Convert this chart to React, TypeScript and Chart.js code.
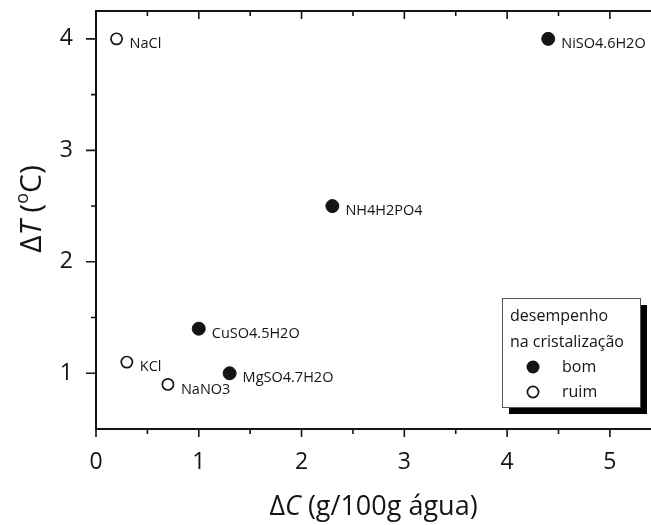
import React, { useEffect, useRef } from 'react';
import { Chart, registerables } from 'chart.js';
Chart.register(...registerables);

// ---- data ----
const bomNames = ['NiSO4.6H2O', 'NH4H2PO4', 'CuSO4.5H2O', 'MgSO4.7H2O'];
const bomDC = [4.4, 2.3, 1.0, 1.3];
const bomDT = [4.0, 2.5, 1.4, 1.0];
const ruimNames = ['NaCl', 'KCl', 'NaNO3'];
const ruimDC = [0.2, 0.3, 0.7];
const ruimDT = [4.0, 1.1, 0.9];

const xMajorTicks = [0, 1, 2, 3, 4, 5];
const xMinorTicks = [0.5, 1.5, 2.5, 3.5, 4.5];
const yMajorTicks = [1, 2, 3, 4];
const yMinorTicks = [1.5, 2.5, 3.5];

const legendTitle = ['desempenho', 'na cristalização'];
const legendLabels = ['bom', 'ruim'];

const FONT = '"Open Sans", "DejaVu Sans", sans-serif';
const INK = '#141414';

export default function App() {
  const ref = useRef<HTMLCanvasElement>(null);
  useEffect(() => {
    document.body.style.margin = '0';
    const canvas = ref.current!;
    const names = [bomNames, ruimNames];

    const decor = {
      id: 'decor',
      afterDraw(chart: any) {
        const ctx = chart.ctx as CanvasRenderingContext2D;
        const { left, right, top, bottom } = chart.chartArea;
        const xs = chart.scales.x;
        const ys = chart.scales.y;
        ctx.save();
        ctx.strokeStyle = INK;
        ctx.lineCap = 'butt';
        // frame
        ctx.lineWidth = 2;
        ctx.beginPath();
        ctx.moveTo(left, top);
        ctx.lineTo(left, bottom);
        ctx.lineTo(right, bottom);
        ctx.moveTo(left - 1, top);
        ctx.lineTo(right, top);
        ctx.stroke();
        // ticks
        ctx.lineWidth = 1.6;
        ctx.beginPath();
        const tickX = (v: number, len: number) => {
          const px = xs.getPixelForValue(v);
          ctx.moveTo(px, bottom);
          ctx.lineTo(px, bottom + len);
          ctx.moveTo(px, top);
          ctx.lineTo(px, top + len);
        };
        xMajorTicks.forEach((v) => tickX(v, 8));
        xMinorTicks.forEach((v) => tickX(v, 5));
        const tickY = (v: number, len: number) => {
          const py = ys.getPixelForValue(v);
          ctx.moveTo(left, py);
          ctx.lineTo(left - len, py);
        };
        yMajorTicks.forEach((v) => tickY(v, 10));
        yMinorTicks.forEach((v) => tickY(v, 5));
        ctx.stroke();

        // point labels
        ctx.fillStyle = INK;
        ctx.font = `14.5px ${FONT}`;
        ctx.textAlign = 'left';
        ctx.textBaseline = 'middle';
        chart.data.datasets.forEach((ds: any, di: number) => {
          const meta = chart.getDatasetMeta(di);
          meta.data.forEach((el: any, j: number) => {
            ctx.fillText(names[di][j], el.x + 13, el.y + 5);
          });
        });

        // axis titles
        const drawParts = (
          parts: { t: string; italic?: boolean; sup?: boolean }[],
          cx: number,
          cy: number,
          size: number
        ) => {
          const fontFor = (p: any) =>
            `${p.italic ? 'italic ' : ''}${p.sup ? Math.round(size * 0.6) : size}px ${FONT}`;
          let total = 0;
          parts.forEach((p) => {
            ctx.font = fontFor(p);
            total += ctx.measureText(p.t).width;
          });
          let x = cx - total / 2;
          ctx.textAlign = 'left';
          ctx.textBaseline = 'alphabetic';
          parts.forEach((p) => {
            ctx.font = fontFor(p);
            ctx.fillText(p.t, x, cy + (p.sup ? -size * 0.42 : 0));
            x += ctx.measureText(p.t).width;
          });
        };
        drawParts(
          [{ t: 'Δ' }, { t: 'C', italic: true }, { t: ' (g/100g água)' }],
          (left + right) / 2,
          515,
          27
        );
        ctx.save();
        ctx.translate(41, 209);
        ctx.rotate(-Math.PI / 2);
        drawParts(
          [{ t: 'Δ' }, { t: 'T', italic: true }, { t: ' (' }, { t: 'o', sup: true }, { t: 'C)' }],
          0,
          0,
          30
        );
        ctx.restore();

        // legend
        const bx = 502, by = 298, bw = 138, bh = 109;
        ctx.fillStyle = '#000';
        ctx.fillRect(bx + 7, by + 7, bw, bh);
        ctx.fillStyle = '#fff';
        ctx.fillRect(bx, by, bw, bh);
        ctx.strokeStyle = '#555';
        ctx.lineWidth = 1;
        ctx.strokeRect(bx + 0.5, by + 0.5, bw, bh);
        ctx.fillStyle = INK;
        ctx.font = `16px ${FONT}`;
        ctx.textBaseline = 'middle';
        ctx.textAlign = 'left';
        ctx.fillText(legendTitle[0], bx + 8, by + 18);
        ctx.fillText(legendTitle[1], bx + 8, by + 44);
        const rows = [by + 69, by + 94];
        ctx.beginPath();
        ctx.arc(bx + 31, rows[0], 6.5, 0, Math.PI * 2);
        ctx.fillStyle = INK;
        ctx.fill();
        ctx.beginPath();
        ctx.arc(bx + 31, rows[1], 5.6, 0, Math.PI * 2);
        ctx.fillStyle = '#fff';
        ctx.fill();
        ctx.strokeStyle = INK;
        ctx.lineWidth = 1.7;
        ctx.stroke();
        ctx.fillStyle = INK;
        ctx.fillText(legendLabels[0], bx + 60, rows[0]);
        ctx.fillText(legendLabels[1], bx + 60, rows[1]);
        ctx.restore();
      },
    };

    const chart = new Chart(canvas, {
      type: 'scatter',
      data: {
        datasets: [
          {
            label: legendLabels[0],
            data: bomDC.map((x, i) => ({ x, y: bomDT[i] })),
            pointRadius: 6.5,
            backgroundColor: INK,
            borderColor: INK,
            borderWidth: 1,
          },
          {
            label: legendLabels[1],
            data: ruimDC.map((x, i) => ({ x, y: ruimDT[i] })),
            pointRadius: 5.6,
            backgroundColor: '#fff',
            borderColor: INK,
            borderWidth: 1.7,
          },
        ],
      },
      options: {
        responsive: false,
        animation: false,
        devicePixelRatio: 1,
        clip: false,
        layout: { autoPadding: false, padding: { top: 11, right: 0, left: 0, bottom: 0 } },
        plugins: { legend: { display: false }, tooltip: { enabled: false } },
        scales: {
          x: {
            type: 'linear',
            min: 0,
            max: 5.4,
            grid: { display: false },
            border: { display: false },
            afterBuildTicks: (s: any) => {
              s.ticks = xMajorTicks.map((v) => ({ value: v }));
            },
            afterFit: (s: any) => {
              s.height = 96;
              s.paddingLeft = 0;
              s.paddingRight = 0;
            },
            ticks: {
              font: { family: FONT, size: 23 },
              color: INK,
              padding: 12,
              maxRotation: 0,
              callback: (v: any) => String(v),
            },
          },
          y: {
            type: 'linear',
            min: 0.5,
            max: 4.25,
            grid: { display: false },
            border: { display: false },
            afterBuildTicks: (s: any) => {
              s.ticks = yMajorTicks.map((v) => ({ value: v }));
            },
            afterFit: (s: any) => {
              s.width = 96;
              s.paddingTop = 0;
              s.paddingBottom = 0;
            },
            ticks: {
              font: { family: FONT, size: 23 },
              color: INK,
              padding: 15,
              callback: (v: any) => String(v),
            },
          },
        },
      },
      plugins: [decor],
    } as any);
    return () => chart.destroy();
  }, []);
  return <canvas ref={ref} width={651} height={525} style={{ display: 'block' }} />;
}
